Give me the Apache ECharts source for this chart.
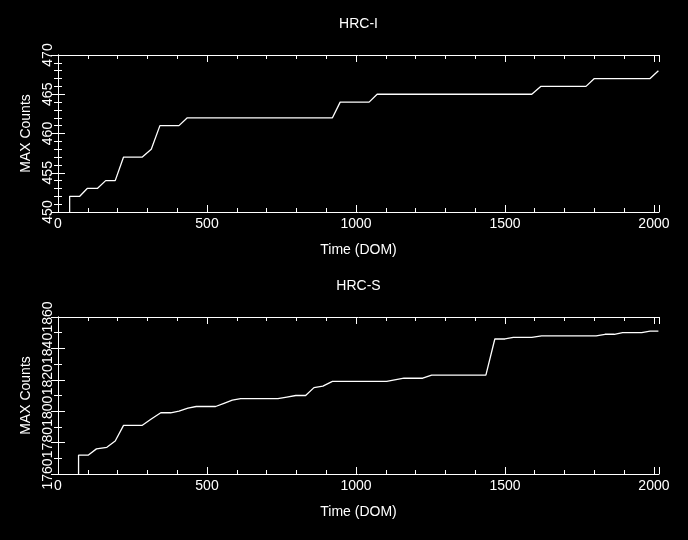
<!DOCTYPE html>
<html>
<head>
<meta charset="utf-8">
<script src="https://cdn.jsdelivr.net/npm/echarts@6/dist/echarts.min.js"></script>
<style>
html,body{margin:0;padding:0;background:#000;}
#chart{width:688px;height:540px;}
</style>
</head>
<body>
<div id="chart"></div>
<script>
// ---- data ----
var titles = ['HRC-I', 'HRC-S'];
var xAxisName = 'Time (DOM)';
var yAxisName = 'MAX Counts';

var hrciTime = [39, 39, 73, 98, 132, 160, 192, 220, 283, 313, 342, 406, 434, 921, 947, 1044, 1071, 1590, 1620, 1772, 1800, 1987, 2015];
var hrciMax  = [450, 452, 452, 453, 453, 454, 454, 457, 457, 458, 461, 461, 462, 462, 464, 464, 465, 465, 466, 466, 467, 467, 468];

var hrcsTime = [69, 69, 101, 129, 164, 192, 220, 283, 313, 345, 378, 406, 436, 464, 529, 557, 585, 613, 738, 768, 798, 831, 859, 889, 921, 1103, 1161, 1224, 1254, 1436, 1466, 1500, 1528, 1590, 1623, 1806, 1836, 1867, 1895, 1959, 1987, 2015];
var hrcsMax  = [1760, 1772, 1772, 1776, 1777, 1781, 1791, 1791, 1795, 1799, 1799, 1800, 1802, 1803, 1803, 1805, 1807, 1808, 1808, 1809, 1810, 1810, 1815, 1816, 1819, 1819, 1821, 1821, 1823, 1823, 1846, 1846, 1847, 1847, 1848, 1848, 1849, 1849, 1850, 1850, 1851, 1851];

var xRange = [0, 2017];
var xMajor = 500, xMinor = 100;
var yRanges = [[450, 470], [1760, 1860]];
var yMajor = [5, 20];
var yMinorSplit = [5, 2];

// ---- build ----
var FONT = 'Liberation Sans, Arial, Helvetica, sans-serif';
var WHITE = '#ffffff';
var gridTops = [55, 317];

function zip(a, b) { return a.map(function (v, i) { return [v, b[i]]; }); }

var grids = [], xAxes = [], yAxes = [], series = [], titleArr = [];
var seriesData = [zip(hrciTime, hrciMax), zip(hrcsTime, hrcsMax)];

for (var g = 0; g < 2; g++) {
  grids.push({left: 58, top: gridTops[g], width: 601, height: 157, containLabel: false});
  titleArr.push({
    text: titles[g], left: 358.5, textAlign: 'center', top: gridTops[g] - 37.5, padding: 0,
    textStyle: {color: WHITE, fontSize: 14, fontWeight: 'normal', fontFamily: FONT}
  });
  var base = {type: 'value', gridIndex: g, min: xRange[0], max: xRange[1], splitLine: {show: false}};
  xAxes.push(Object.assign({}, base, {
    position: 'bottom', interval: xMinor,
    axisLine: {show: true, lineStyle: {color: WHITE, width: 1}},
    axisTick: {show: true, inside: true, length: 4, lineStyle: {color: WHITE}},
    axisLabel: {show: true, color: WHITE, fontSize: 14, fontFamily: FONT, margin: 5,
      showMinLabel: true, showMaxLabel: true,
      formatter: function (v) { return (v % xMajor === 0) ? String(v) : ''; }},
    name: xAxisName, nameLocation: 'middle', nameGap: 31,
    nameTextStyle: {color: WHITE, fontSize: 14, fontFamily: FONT}
  }));
  xAxes.push(Object.assign({}, base, {
    position: 'bottom', interval: xMajor,
    axisLine: {show: false},
    axisTick: {show: true, inside: true, length: 7, lineStyle: {color: WHITE}},
    axisLabel: {show: false}
  }));
  xAxes.push(Object.assign({}, base, {
    position: 'top', interval: xMinor,
    axisLine: {show: true, lineStyle: {color: WHITE, width: 1}},
    axisTick: {show: true, inside: true, length: 4, lineStyle: {color: WHITE}},
    axisLabel: {show: false}
  }));
  xAxes.push(Object.assign({}, base, {
    position: 'top', interval: xMajor,
    axisLine: {show: false},
    axisTick: {show: true, inside: true, length: 7, lineStyle: {color: WHITE}},
    axisLabel: {show: false}
  }));

  var ybase = {type: 'value', gridIndex: g, min: yRanges[g][0], max: yRanges[g][1], interval: yMajor[g],
    splitLine: {show: false},
    axisLine: {show: true, lineStyle: {color: WHITE, width: 1}},
    axisTick: {show: true, inside: true, length: 7, lineStyle: {color: WHITE}},
    minorTick: {show: true, splitNumber: yMinorSplit[g], length: 4, lineStyle: {color: WHITE}},
    minorSplitLine: {show: false}
  };
  yAxes.push(Object.assign({}, ybase, {
    position: 'left',
    axisLabel: {show: true, rotate: 90, color: WHITE, fontSize: 14, fontFamily: FONT, margin: 3,
      showMinLabel: true, showMaxLabel: true, hideOverlap: false,
      formatter: function (v) { return String(v); }},
    name: yAxisName, nameLocation: 'middle', nameGap: 22, nameRotate: 90,
    nameTextStyle: {color: WHITE, fontSize: 14, fontFamily: FONT}
  }));
  yAxes.push(Object.assign({}, ybase, {
    position: 'right',
    axisLabel: {show: false}
  }));

  series.push({
    type: 'line', xAxisIndex: g * 4, yAxisIndex: g * 2,
    data: seriesData[g], showSymbol: false, symbol: 'none',
    lineStyle: {color: WHITE, width: 1.3}, itemStyle: {color: WHITE},
    animation: false
  });
}

var chart = echarts.init(document.getElementById('chart'), null, {renderer: 'canvas'});
chart.setOption({
  backgroundColor: '#000000',
  animation: false,
  title: titleArr,
  grid: grids,
  xAxis: xAxes,
  yAxis: yAxes,
  series: series
});
</script>
</body>
</html>
